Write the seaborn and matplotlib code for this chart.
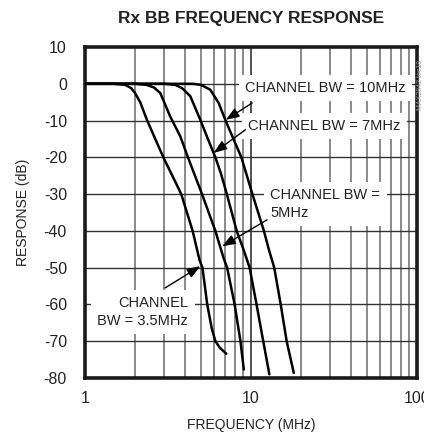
import matplotlib
matplotlib.use('Agg')
import matplotlib.pyplot as plt
import seaborn as sns
import pandas as pd

# Curve data (frequency in MHz, response in dB)
freq_35 = [1, 1.5, 1.75, 1.9, 2.0, 2.15, 2.36, 2.65, 3.0, 3.4, 3.8, 4.45,
           4.9, 5.1, 5.45, 5.8, 6.1, 6.5, 7.1]
resp_35 = [0, 0, -0.3, -1.2, -2.5, -5, -9.8, -15, -20.5, -25.5, -30, -40,
           -48, -50, -60, -66.5, -70, -71.8, -73.4]

freq_5 = [1, 2.0, 2.35, 2.6, 2.84, 3.26, 3.75, 4.17, 5.07, 6.1, 6.85, 7.18,
          7.97, 8.64, 9.05]
resp_5 = [0, 0, -0.3, -1.0, -2.5, -8.9, -14.3, -20, -30, -40, -47.5, -50,
          -60, -70, -77.7]

freq_7 = [1, 3.0, 3.5, 3.85, 4.31, 4.95, 5.5, 6.1, 6.6, 7.15, 8.2, 9.0,
          9.81, 10.8, 11.85, 12.9]
resp_7 = [0, 0, -0.3, -1.2, -3.4, -9.8, -15, -20, -24.5, -30, -40, -45,
          -50, -60, -70, -79]

freq_10 = [1, 4.5, 5.0, 5.68, 6.38, 7.0, 7.87, 8.75, 10.2, 11.96, 12.8,
           13.8, 15.1, 16.4, 18.1]
resp_10 = [0, 0, -0.3, -1.6, -5.2, -9.8, -15.2, -20, -30, -40, -45, -50,
           -60, -70, -78.6]

bw_names = ['3.5MHz', '5MHz', '7MHz', '10MHz']
y_ticks = [10, 0, -10, -20, -30, -40, -50, -60, -70, -80]
y_labels = ['10', '0', '-10', '-20', '-30', '-40', '-50', '-60', '-70', '-80']

frames = []
for name, f, r in zip(bw_names, [freq_35, freq_5, freq_7, freq_10],
                      [resp_35, resp_5, resp_7, resp_10]):
    frames.append(pd.DataFrame({'bw': name, 'freq': f, 'resp': r}))
df = pd.concat(frames, ignore_index=True)

sns.set_style('white')
plt.rcParams['font.family'] = ['Liberation Sans', 'DejaVu Sans']

fig = plt.figure(figsize=(4.24, 4.36), dpi=100)
ax = fig.add_axes([85 / 424, 58 / 436, 332 / 424, 331 / 436])

sns.lineplot(data=df, x='freq', y='resp', units='bw', estimator=None,
             sort=False, color='black', linewidth=1.8, ax=ax, zorder=3)

ax.set_xscale('log')
ax.set_xlim(1, 100)
ax.set_ylim(-80, 10)
ax.set_yticks(y_ticks)
ax.set_yticklabels(y_labels)
ax.set_xticks([1, 10, 100])
ax.set_xticklabels(['1', '10', '100'])
ax.minorticks_off()

# grid: minor decades in gray, major lines in black
for dec in [1, 10]:
    for k in range(2, 10):
        ax.axvline(dec * k, color='#808080', lw=1.3, zorder=1)
ax.axvline(10, color='#222222', lw=1.1, zorder=1)
for yv in y_ticks[1:-1]:
    ax.axhline(yv, color='#333333', lw=1.0, zorder=1)

for side in ax.spines.values():
    side.set_linewidth(2.6)
    side.set_color('#1a1a1a')

ax.tick_params(axis='both', length=0, labelsize=11.5, colors='#222222')
ax.tick_params(axis='y', pad=13)
ax.tick_params(axis='x', pad=9)
ax.set_xlabel('FREQUENCY (MHz)', fontsize=10, color='#222222', labelpad=9)
ax.set_ylabel('RESPONSE (dB)', fontsize=10, color='#222222', labelpad=10)
fig.text(251 / 424, 1 - 18 / 436, 'Rx BB FREQUENCY RESPONSE',
         ha='center', va='center', fontsize=12.5, fontweight='bold',
         color='#222222')
fig.text(421 / 424, 1 - 85 / 436, 'MAX2842 toc18', rotation=90,
         ha='center', va='center', fontsize=5, color='#999999')

box = dict(facecolor='white', edgecolor='none', pad=4.5)
txt = dict(fontsize=10.5, color='#222222', zorder=5, bbox=box)
ax.text(28.2, -1.1, 'CHANNEL BW = 10MHz', ha='center', va='center', **txt)
ax.text(27.6, -11.5, 'CHANNEL BW = 7MHz', ha='center', va='center', **txt)
ax.text(13.1, -28.3, 'CHANNEL BW =\n5MHz', ha='left', va='top',
        linespacing=1.35, **txt)
ax.text(4.19, -57.8, 'CHANNEL\nBW = 3.5MHz', ha='right', va='top',
        multialignment='right', linespacing=1.35, **txt)

arrow = dict(arrowstyle='-|>,head_length=0.8,head_width=0.3',
             color='black', lw=1.0, shrinkA=0, shrinkB=0)
ax.annotate('', xy=(7.05, -9.8), xytext=(10.17, -5.2), arrowprops=arrow,
            zorder=6)
ax.annotate('', xy=(5.96, -18.8), xytext=(9.26, -12.5), arrowprops=arrow,
            zorder=6)
ax.annotate('', xy=(6.7, -44.2), xytext=(12.5, -37), arrowprops=arrow,
            zorder=6)
ax.annotate('', xy=(4.95, -49.6), xytext=(3.04, -55.5), arrowprops=arrow,
            zorder=6)

fig.savefig('out.png', dpi=100)
